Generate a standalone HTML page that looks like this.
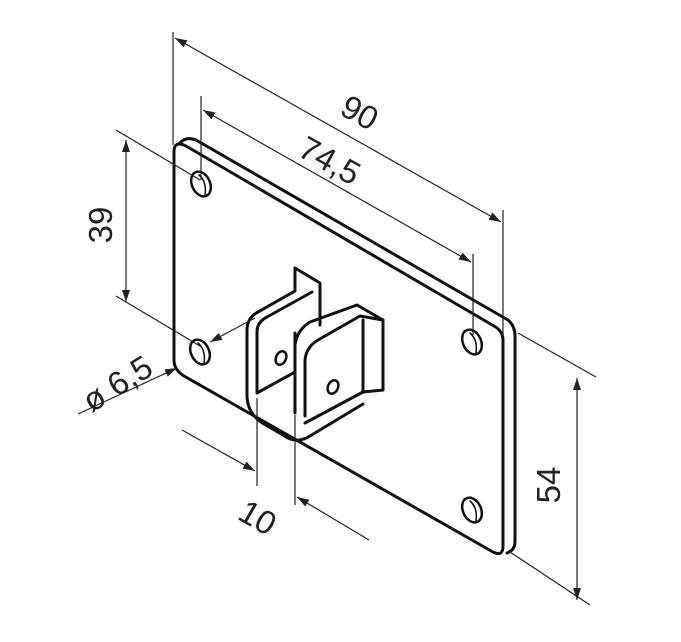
<!DOCTYPE html>
<html><head><style>html,body{margin:0;padding:0;background:#fff}svg{display:block}text{font-family:"Liberation Sans",sans-serif;fill:#222}</style></head><body>
<svg width="681" height="642" viewBox="0 0 681 642" xmlns="http://www.w3.org/2000/svg">
<defs><marker id="a" viewBox="0 0 12 8" refX="12" refY="4" markerWidth="13" markerHeight="8" orient="auto-start-reverse" markerUnits="userSpaceOnUse"><path d="M0,0 L12,4 L0,8 Z" fill="#222"/></marker></defs>
<g fill="none" stroke="#111" stroke-width="3" stroke-linejoin="round" stroke-linecap="round">
<path d="M180,143 Q186,136 196,140 L508,320 Q515,326 515,336 L515,542 Q515,550 507,553"/>
<path d="M174,152 L174,360 Q174,370 184,376 L493,552 Q503,557 503,546 L503,340 Q503,331 494,326 L186,146 Q174,140 174,152 Z" fill="#fff"/>
<g stroke-width="2.5">
<ellipse cx="201" cy="184" rx="9" ry="13" transform="rotate(-25 201 184)"/>
<ellipse cx="200" cy="352" rx="9" ry="13" transform="rotate(-25 200 352)"/>
<ellipse cx="472" cy="342" rx="9" ry="13" transform="rotate(-25 472 342)"/>
<ellipse cx="472" cy="510" rx="9" ry="13" transform="rotate(-25 472 510)"/>
</g>
<g stroke-width="1.5">
<path d="M199,175 Q207,182 205,195"/><path d="M198,343 Q206,350 204,363"/><path d="M470,333 Q478,340 476,353"/><path d="M470,501 Q478,508 476,521"/>
</g>
<path d="M247,395 L247,330 Q247,318 258,312 L295,291 L295,268 L320,283 L320,325" fill="#fff"/>
<path d="M257,393 L257,332 Q257,322 267,317 L312,292"/>
<path d="M257,393 L295,372"/>
<path d="M295,333 L295,413"/>
<path d="M247,395 Q247,414 264,424 L288,438 Q299,443 310,436 L363,404"/>
<path d="M305,416 L305,362 Q305,348 318,340 L360,316 L383,320 L383,390 L363,392 L305,423" fill="#fff"/>
<path d="M295,345 Q297,330 310,322 L357,305 L383,320"/>
<path d="M363,320 L363,392"/>
<ellipse cx="281" cy="358" rx="5" ry="7" transform="rotate(25 281 358)" stroke-width="2.5"/>
<ellipse cx="333" cy="387" rx="5" ry="7" transform="rotate(25 333 387)" stroke-width="2.5"/>
</g>
<g stroke="#222" stroke-width="1.2" fill="none">
<line x1="173" y1="32" x2="173" y2="145"/>
<line x1="503" y1="210" x2="503" y2="335"/>
<line x1="175" y1="38" x2="501" y2="222" marker-start="url(#a)" marker-end="url(#a)"/>
<line x1="201" y1="96" x2="201" y2="180"/>
<line x1="473" y1="254" x2="473" y2="335"/>
<line x1="203" y1="110" x2="471" y2="262" marker-start="url(#a)" marker-end="url(#a)"/>
<line x1="116" y1="130" x2="200" y2="180"/>
<line x1="116" y1="296" x2="200" y2="346"/>
<line x1="126" y1="140" x2="126" y2="302" marker-start="url(#a)" marker-end="url(#a)"/>
<line x1="78" y1="414" x2="177" y2="368" marker-end="url(#a)"/>
<line x1="255" y1="318" x2="210" y2="342" marker-end="url(#a)"/>
<line x1="257" y1="398" x2="257" y2="486"/>
<line x1="295" y1="415" x2="295" y2="505"/>
<line x1="182" y1="430" x2="255" y2="471" marker-end="url(#a)"/>
<line x1="369" y1="540" x2="297" y2="497" marker-end="url(#a)"/>
<line x1="518" y1="333" x2="596" y2="377"/>
<line x1="510" y1="552" x2="590" y2="605"/>
<line x1="577" y1="378" x2="577" y2="600" marker-start="url(#a)" marker-end="url(#a)"/>
</g>
<text x="360" y="124" font-size="33" text-anchor="middle" transform="rotate(29 360 112)">90</text>
<text x="330" y="172" font-size="33" text-anchor="middle" transform="rotate(29 330 160)">74,5</text>
<text x="100" y="237" font-size="33" text-anchor="middle" transform="rotate(-90 100 225)">39</text>
<text x="117" y="395" font-size="33" text-anchor="middle" transform="rotate(-32 117 383)">ø 6,5</text>
<text x="258" y="529" font-size="33" text-anchor="middle" transform="rotate(30 258 517)">10</text>
<text x="548" y="497" font-size="33" text-anchor="middle" transform="rotate(-90 548 485)">54</text>
</svg>
</body></html>
